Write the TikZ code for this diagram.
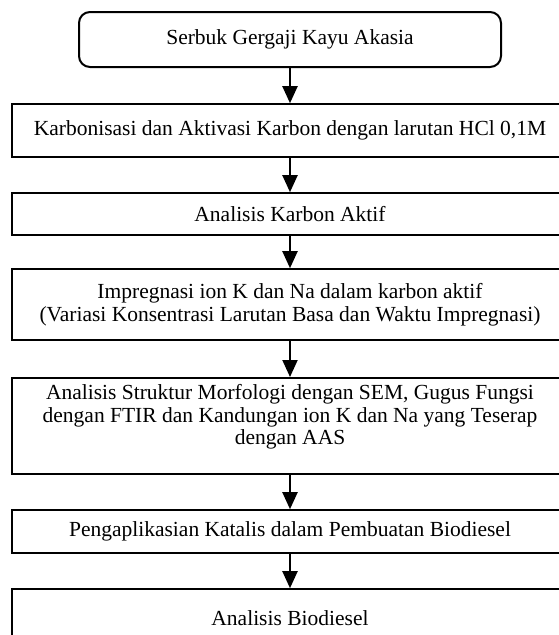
\documentclass[tikz,border=0pt]{standalone}
\usepackage{fontspec}
\setmainfont{Liberation Serif}
\usetikzlibrary{arrows.meta}

\begin{document}
\begin{tikzpicture}[
    x=1pt, y=-1pt,
    >={Triangle[width=15pt, length=17pt]},
    font=\fontsize{21.5}{22.5}\selectfont,
    startbox/.style={draw=black, line width=2pt, rounded corners=11pt,
                     minimum width=422pt, minimum height=55pt, inner sep=0pt, align=center},
    stepbox/.style={draw=black, line width=1.6pt, minimum width=556pt,
                    inner sep=0pt, align=center},
    arrowline/.style={line width=2pt, ->},
]

\def\cx{290}  % centre line of the chart

% frame of the page (the right and lower edges are cut off)
\useasboundingbox (0,0) rectangle (559,635);
\clip (0,0) rectangle (559,635);

% Start
\node[startbox] (serbuk) at (\cx, 39.5) {Serbuk Gergaji Kayu Akasia};

% Steps
\node[stepbox, minimum height=53pt] (karbonisasi) at (\cx, 130.5)
    {Karbonisasi dan Aktivasi Karbon dengan larutan HCl 0,1M};
\node[stepbox, minimum height=42pt] (analisis) at (\cx, 214)
    {Analisis Karbon Aktif};
\node[stepbox, minimum height=71pt] (impregnasi) at (\cx, 304.5)
    {Impregnasi ion K dan Na dalam karbon aktif\\
     (Variasi Konsentrasi Larutan Basa dan Waktu Impregnasi)};
\node[stepbox, anchor=north, text height=67pt, text depth=29pt] (struktur) at (\cx, 377)
    {Analisis Struktur Morfologi dengan SEM, Gugus Fungsi\\
     dengan FTIR dan Kandungan ion K dan Na yang Teserap\\
     dengan AAS};
\node[stepbox, minimum height=43pt] (katalis) at (\cx, 531.5)
    {Pengaplikasian Katalis dalam Pembuatan Biodiesel};
\node[stepbox, minimum height=58pt] (biodiesel) at (\cx, 618)
    {Analisis Biodiesel};

% Arrows
\draw[arrowline] (serbuk) -- (karbonisasi);
\draw[arrowline] (karbonisasi) -- (analisis);
\draw[arrowline] (analisis) -- (impregnasi);
\draw[arrowline] (impregnasi) -- (struktur);
\draw[arrowline] (struktur) -- (katalis);
\draw[arrowline] (katalis) -- (biodiesel);

\end{tikzpicture}
\end{document}
